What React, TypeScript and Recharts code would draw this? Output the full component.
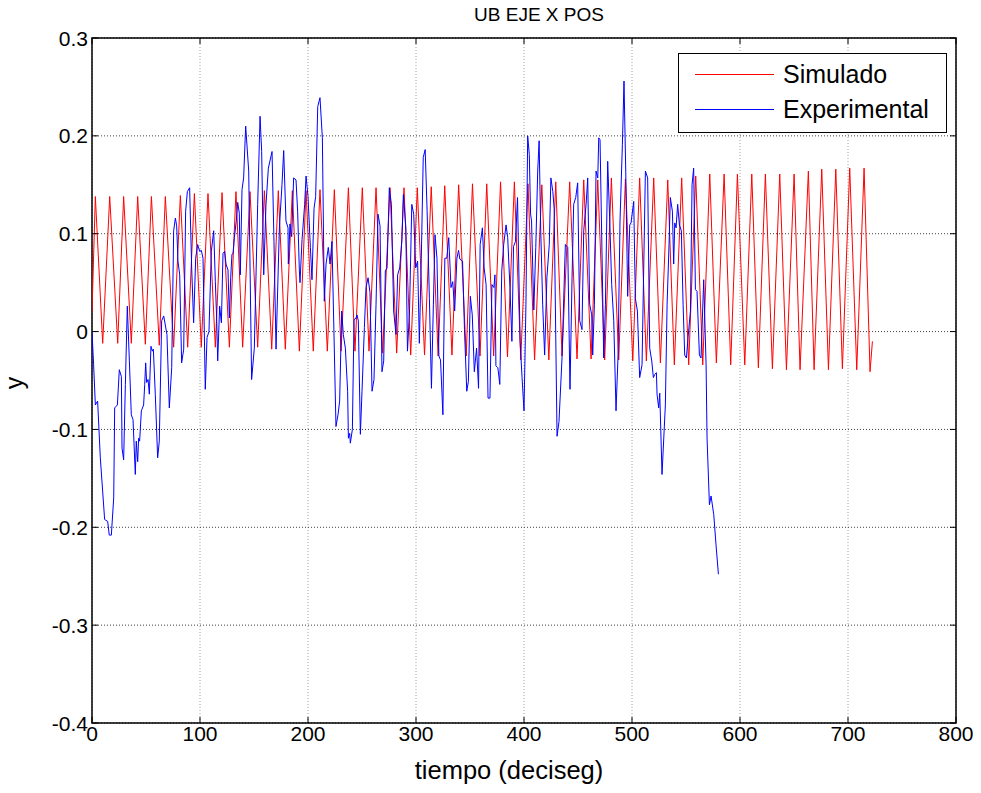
import { LineChart, Line, XAxis, YAxis, CartesianGrid, Legend, ReferenceArea } from "recharts";

// axis ticks
const xTicks = [0, 100, 200, 300, 400, 500, 600, 700, 800];
const yTicks = [-0.4, -0.3, -0.2, -0.1, 0, 0.1, 0.2, 0.3];
const legendOrder = ["Simulado", "Experimental"];

// Simulado: turning points of the red oscillation (peaks / troughs)
const simStart = { t: 0, y: 0.02 };
const simEnd = { t: 722.6, y: -0.01 };
const simPeakT = [
  3.1, 16.4, 29.3, 42.3, 55.0, 67.9, 81.8, 94.8, 107.4, 120.4, 133.3,
  146.3, 159.6, 172.5, 185.5, 198.2, 211.1, 224.4, 237.4, 250.3, 263.0, 275.9, 288.9,
  301.2, 314.1, 326.6, 339.5, 352.3, 365.5, 378.3, 391.1, 403.7, 416.5, 429.4,
  442.3, 455.3, 468.3, 480.9, 493.9, 507.1, 520.1, 533.1, 546.0, 559.0, 572.0,
  585.3, 597.6, 610.9, 623.5, 636.8, 650.1, 663.3, 675.7, 688.7, 701.6, 714.9,
];
const simPeakY = [
  0.138, 0.138, 0.138, 0.138, 0.138, 0.138, 0.139, 0.141, 0.141, 0.142, 0.143,
  0.143, 0.144, 0.144, 0.144, 0.144, 0.145, 0.145, 0.147, 0.147, 0.147, 0.147, 0.147,
  0.147, 0.148, 0.149, 0.15, 0.151, 0.151, 0.153, 0.153, 0.151, 0.15, 0.153,
  0.153, 0.155, 0.155, 0.157, 0.156, 0.157, 0.157, 0.155, 0.157, 0.159, 0.161,
  0.161, 0.161, 0.161, 0.161, 0.161, 0.161, 0.164, 0.166, 0.166, 0.167, 0.167,
];
const simTroughT = [
  9.9, 23.8, 36.4, 49.4, 62.3, 75.6, 88.6, 101.2, 114.2, 127.2, 139.5,
  153.4, 166.4, 179.0, 192.0, 204.9, 217.9, 230.6, 243.5, 256.5, 269.1, 282.1,
  295.1, 307.9, 320.5, 333.3, 346.5, 359.3, 371.9, 384.7, 397.0, 409.8, 423.0,
  435.2, 449.1, 462.1, 474.7, 487.7, 500.7, 513.3, 526.3, 539.2, 552.5, 565.5, 578.1,
  591.4, 604.4, 617.0, 630.0, 643.0, 655.6, 668.6, 681.9, 694.8, 708.1, 720.4,
];
const simTroughY = [
  -0.012, -0.012, -0.012, -0.013, -0.014, -0.016, -0.016, -0.016, -0.016, -0.016, -0.016,
  -0.016, -0.018, -0.018, -0.02, -0.02, -0.02, -0.02, -0.02, -0.02, -0.022, -0.022,
  -0.024, -0.024, -0.025, -0.024, -0.025, -0.025, -0.025, -0.026, -0.029, -0.029, -0.029,
  -0.025, -0.028, -0.028, -0.029, -0.029, -0.03, -0.03, -0.032, -0.034, -0.034, -0.034, -0.032,
  -0.034, -0.034, -0.037, -0.038, -0.039, -0.039, -0.039, -0.039, -0.038, -0.039, -0.041,
];

// Experimental (blue)
const expT = [
  0, 1.5, 3.1, 5.2, 7.7, 11.7, 14.5, 16.0, 17.9, 20.1, 21.0, 23.5, 25.3, 27.2, 27.8, 29.3,
  30.9, 32.7, 34.6, 36.4, 38.0, 40.1, 41.0, 42.3, 43.2, 44.1, 45.7, 47.8, 48.8, 49.7, 50.6,
  51.9, 53.1, 54.6, 55.9, 56.8, 58.6, 60.8, 62.3, 64.5, 66.4, 69.4, 71.6, 73.8, 75.6, 77.2,
  78.4, 79.6, 81.2, 83.0, 84.9, 86.7, 88.3, 90.4, 92.3, 94.1, 96.0, 97.8, 99.7, 101.2, 102.8,
  104.9, 106.5, 108.3, 110.5, 112.7, 114.2, 115.4, 116.4, 118.2, 119.8, 121.3, 122.8, 124.1,
  125.9, 127.2, 128.4, 129.6, 130.6, 131.8, 133.6, 134.9, 136.4, 137.3, 138.9, 140.4, 142.3,
  145.1, 147.8, 150.3, 153.4, 155.6, 157.1, 159.0, 161.1, 163.3, 166.7, 168.5, 170.4, 173.5,
  175.9, 177.5, 179.6, 181.5, 181.8, 183.3, 184.9, 186.7, 188.9, 190.4, 192.0, 192.6, 194.5,
  196.9, 198.2, 200.0, 202.2, 203.7, 205.6, 207.1, 209.0, 211.1, 213.3, 215.1, 216.7, 218.8,
  220.4, 222.2, 225.9, 227.8, 229.3, 231.2, 232.7, 234.6, 236.7, 237.4, 238.6, 239.2, 241.1,
  242.6, 244.5, 245.4, 246.6, 248.5, 250.0, 252.2, 253.7, 255.6, 257.4, 259.3, 261.1, 263.0,
  264.8, 266.7, 268.5, 270.1, 271.6, 273.2, 275.3, 277.2, 279.3, 281.5, 283.0, 284.9, 287.0,
  288.3, 290.6, 292.1, 294.0, 296.1, 297.9, 299.7, 301.5, 303.1, 304.9, 306.7, 308.5, 310.3,
  312.4, 314.3, 316.1, 317.6, 319.4, 321.2, 322.7, 324.9, 326.7, 328.5, 330.3, 332.4, 334.0,
  335.8, 337.9, 339.4, 340.6, 343.1, 344.9, 347.0, 348.5, 350.3, 352.1, 354.0, 356.1, 357.9,
  359.4, 361.5, 363.1, 364.9, 366.7, 368.5, 370.3, 372.1, 373.1, 374.0, 375.8, 377.6, 379.4,
  381.2, 383.4, 384.9, 387.0, 388.8, 390.3, 392.1, 394.0, 396.4, 398.2, 400.0, 401.8, 403.4,
  404.9, 406.1, 407.0, 409.1, 410.9, 412.7, 414.0, 415.5, 417.3, 419.1, 421.2, 423.4, 424.9,
  426.7, 427.9, 429.1, 430.6, 432.4, 435.2, 436.8, 438.3, 440.5, 442.6, 444.5, 446.0, 447.9,
  449.7, 451.6, 453.7, 455.3, 457.5, 459.0, 460.8, 462.7, 463.6, 465.2, 466.7, 468.3, 469.2,
  470.4, 472.3, 473.8, 475.4, 477.5, 479.4, 481.2, 483.1, 485.2, 487.1, 488.9, 491.1, 492.6,
  494.2, 496.0, 497.9, 499.1, 501.6, 503.1, 505.0, 507.1, 509.3, 510.8, 512.4, 514.5, 516.4,
  518.3, 519.8, 521.0, 522.6, 523.2, 524.7, 525.7, 527.8, 530.9, 532.5, 534.3, 535.5, 537.4,
  538.6, 539.6, 540.8, 542.3, 543.9, 545.7, 547.3, 548.8, 550.4, 551.9, 554.1, 555.6, 557.1,
  558.7, 560.2, 562.4, 563.9, 566.4, 568.6, 569.5, 571.7, 573.2, 575.7, 577.8, 580.0,
];
const expY = [
  0, -0.034, -0.075, -0.071, -0.129, -0.192, -0.194, -0.208, -0.208, -0.17, -0.078, -0.075, -0.039, -0.046, -0.119, -0.131,
  -0.054, 0.026, -0.03, -0.085, -0.09, -0.146, -0.112, -0.133, -0.109, -0.112, -0.081, -0.075, -0.054, -0.032, -0.052,
  -0.049, -0.064, -0.015, -0.02, -0.018, -0.064, -0.129, -0.112, 0.011, 0.016, -0.003, -0.078, -0.037, 0.103, 0.116,
  0.108, 0.072, 0.058, -0.032, -0.018, 0.123, 0.143, 0.147, 0.065, 0.009, 0.075, 0.089, 0.082, 0.083, 0.075,
  -0.059, -0.006, 0, 0.082, 0.103, 0.051, 0.014, -0.03, 0.026, 0.009, 0.08, 0.082, 0.069,
  0.063, 0.014, 0.055, 0.079, 0.08, 0.096, 0.113, 0.132, 0.121, 0.058, 0.145, 0.157, 0.21,
  0.164, -0.049, -0.017, 0.13, 0.22, 0.184, 0.058, 0.13, 0.167, 0.184, 0.092, -0.018, 0.106,
  0.15, 0.185, 0.113, 0.106, 0.069, 0.11, 0.097, 0.157, 0.155, 0.123, 0.062, 0.05, 0.094,
  0.13, 0.159, 0.138, 0.086, 0.053, 0.126, 0.138, 0.23, 0.239, 0.198, 0.031, 0.069, 0.086,
  0.069, 0.092, -0.097, -0.085, -0.071, 0.021, -0.003, -0.017, -0.061, -0.109, -0.104, -0.114, -0.1,
  0.012, 0.014, 0.017, 0.011, -0.105, -0.061, 0.004, 0.045, 0.055, 0.04, -0.061, -0.049, 0.028,
  0.12, 0.108, -0.041, -0.03, 0.062, 0.065, 0.147, 0.13, 0.021, -0.003, 0.058, 0.065, 0.094,
  0.14, 0.106, -0.02, 0.021, 0.13, 0.12, 0.065, 0.072, -0.012, 0.075, 0.178, 0.186, 0.123,
  0.034, -0.058, 0.028, 0.099, 0.075, -0.025, -0.029, -0.085, 0.075, 0.075, 0.096, 0.045, 0.051,
  0.021, 0.075, 0.083, 0.074, 0.072, 0.002, -0.061, -0.051, 0.036, 0.017, -0.041, -0.017, -0.058,
  0.089, 0.106, 0.065, 0.048, -0.068, -0.068, 0.048, 0.045, 0.058, -0.035, -0.037, -0.054, 0.062,
  0.089, 0.109, 0.096, 0.045, -0.01, 0.087, 0.092, 0.137, -0.01, -0.047, -0.081, 0.028, 0.2,
  0.181, 0.12, 0.113, 0.022, 0.086, 0.164, 0.195, 0.103, 0.028, -0.024, 0.055, 0.089, 0.157,
  0.143, 0.126, 0.021, -0.107, -0.092, -0.027, 0.034, 0.089, 0.086, -0.059, 0.055, 0.13, 0.137,
  0.152, 0.011, 0.002, 0.103, 0.13, 0.157, 0.028, 0.017, -0.024, 0.028, 0.164, 0.157, 0.198,
  0.196, 0.075, -0.027, 0.028, 0.174, 0.113, 0.048, 0.011, -0.081, -0.024, 0.113, 0.191, 0.256,
  0.164, 0.036, 0.109, 0.111, 0.133, 0.034, 0.021, -0.047, -0.034, 0.062, 0.164, 0.157, -0.017,
  -0.03, -0.047, -0.044, -0.042, -0.064, -0.078, -0.063, -0.146, -0.075, 0.028, 0.089, 0.137, 0.123,
  0.069, 0.111, 0.106, 0.13, 0.109, 0.103, 0.028, -0.024, -0.027, -0.006, 0.021, 0.15, 0.167,
  0.043, 0.041, -0.024, -0.027, 0.053, -0.034, -0.109, -0.177, -0.168, -0.187, -0.218, -0.248,
];

const FONT = '"Liberation Sans", Arial, Helvetica, sans-serif';
const PLOT = { left: 92, right: 956, top: 38, bottom: 723 };
const TICK_LEN = 6;

// red series: start, then peak / trough pairs, then the final sample
const simData = [
  simStart,
  ...simPeakT.flatMap((t, i) => [
    { t, y: simPeakY[i] },
    { t: simTroughT[i], y: simTroughY[i] },
  ]),
  simEnd,
];
const expData = expT.map((t, i) => ({ t, y: expY[i] }));

const XTick = ({ x, y, payload }: any) => (
  <g>
    <line x1={x} x2={x} y1={PLOT.bottom} y2={PLOT.bottom - TICK_LEN} stroke="#000" />
    <line x1={x} x2={x} y1={PLOT.top} y2={PLOT.top + TICK_LEN} stroke="#000" />
    <text x={x} y={y} dy="0.71em" textAnchor="middle" fontSize={21} fontFamily={FONT} fill="#000">
      {payload.value}
    </text>
  </g>
);

const YTick = ({ x, y, payload }: any) => (
  <g>
    <line x1={PLOT.left} x2={PLOT.left + TICK_LEN} y1={y} y2={y} stroke="#000" />
    <line x1={PLOT.right} x2={PLOT.right - TICK_LEN} y1={y} y2={y} stroke="#000" />
    <text x={x} y={y} dy="0.36em" textAnchor="end" fontSize={21} fontFamily={FONT} fill="#000">
      {String(payload.value)}
    </text>
  </g>
);

const LegendBox = ({ payload }: any) => {
  const items = [...(payload ?? [])].sort(
    (a: any, b: any) => legendOrder.indexOf(a.value) - legendOrder.indexOf(b.value),
  );
  return (
    <div
      style={{
        width: 269,
        height: 80,
        border: "1px solid #000",
        background: "#fff",
        boxSizing: "border-box",
        paddingTop: 3,
      }}
    >
      {items.map((item: any) => (
        <div key={item.value} style={{ display: "flex", alignItems: "center", height: 35 }}>
          <div style={{ width: 79, height: 0, borderTop: `1px solid ${item.color}`, marginLeft: 16 }} />
          <span style={{ marginLeft: 9, fontSize: 25, fontFamily: FONT, color: "#000", lineHeight: "35px" }}>
            {item.value}
          </span>
        </div>
      ))}
    </div>
  );
};

export default function App() {
  return (
    <div style={{ position: "relative", width: 981, height: 793, margin: -8, background: "#fff", fontFamily: FONT }}>
      <div style={{ position: "absolute", left: 0, width: 1078, top: 4, textAlign: "center", fontSize: 19 }}>
        UB EJE X POS
      </div>
      <div
        style={{
          position: "absolute",
          left: 14,
          top: 383,
          fontSize: 25,
          transform: "translate(-50%, -50%) rotate(-90deg)",
        }}
      >
        y
      </div>
      <div style={{ position: "absolute", left: 0, width: 1018, top: 756, textAlign: "center", fontSize: 25.5 }}>
        tiempo (deciseg)
      </div>
      <LineChart width={981} height={793} margin={{ top: 38, right: 25, bottom: 0, left: 0 }}>
        <CartesianGrid horizontal={false} stroke="#a0a0a0" strokeDasharray="1 2" />
        <CartesianGrid vertical={false} stroke="#404040" strokeDasharray="1 2" />
        <XAxis
          dataKey="t"
          type="number"
          domain={[0, 800]}
          ticks={xTicks}
          height={70}
          tickSize={0}
          tickMargin={3}
          axisLine={false}
          tick={XTick}
          allowDataOverflow
        />
        <YAxis
          dataKey="y"
          type="number"
          domain={[-0.4, 0.3]}
          ticks={yTicks}
          width={92}
          tickSize={0}
          tickMargin={4}
          axisLine={false}
          tick={YTick}
          allowDataOverflow
        />
        <ReferenceArea x1={0} x2={800} y1={-0.4} y2={0.3} fill="none" stroke="#000" strokeWidth={1.5} ifOverflow="visible" />
        <Line data={simData} dataKey="y" name="Simulado" stroke="#ff0000" strokeWidth={1} dot={false} isAnimationActive={false} />
        <Line data={expData} dataKey="y" name="Experimental" stroke="#0000ff" strokeWidth={1} dot={false} isAnimationActive={false} />
        <Legend
          layout="vertical"
          align="center"
          verticalAlign="middle"
          content={LegendBox}
          wrapperStyle={{ position: "absolute", left: 678, top: 53, width: 269, height: 80 }}
        />
      </LineChart>
    </div>
  );
}
